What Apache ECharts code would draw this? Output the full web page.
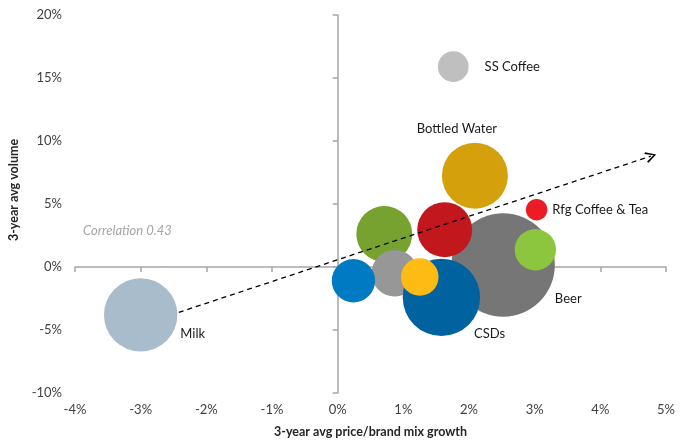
<!DOCTYPE html>
<html>
<head>
<meta charset="utf-8">
<script src="https://cdn.jsdelivr.net/npm/echarts@6/dist/echarts.min.js"></script>
<style>
  html, body { margin: 0; padding: 0; background: #fff; }
  #chart { width: 691px; height: 442px; }
</style>
</head>
<body>
<div id="chart"></div>
<script>
// Beverage categories: price/brand mix growth vs volume growth (3-year averages, %)
const categories = ['Beer', '', '', '', 'CSDs', '', 'Bottled Water', '', '', 'Rfg Coffee & Tea', 'SS Coffee', 'Milk'];
const priceMixGrowth = [2.52, 0.71, 0.87, 0.24, 1.58, 1.25, 2.09, 1.63, 3.01, 3.03, 1.76, -3.0];
const volumeGrowth   = [0.16, 2.62, -0.5, -1.09, -2.41, -0.79, 7.25, 2.96, 1.37, 4.55, 15.9, -3.8];
const bubbleSize     = [100, 29.3, 20.3, 17.6, 56.0, 13.2, 40.7, 28.3, 16.0, 4.3, 8.8, 50.4];

// trend arrow end points and correlation note
const trendStart = [-2.42, -3.6];
const trendEnd = [4.77, 8.8];
const correlationText = 'Correlation 0.43';

const xTicks = { min: -4, max: 5, step: 1 };
const yTicks = { min: -10, max: 20, step: 5 };

// styling
const palette = ['#767676', '#77a22f', '#979797', '#007ac2', '#00629f', '#fdbb13',
                 '#d4a00c', '#c1171d', '#8cc63f', '#ec1c24', '#bfbfbf', '#a9bccb'];
const labelPlacement = {
  'Beer': { position: 'right', distance: 0, offset: [0, 34] },
  'CSDs': { position: 'right', distance: -6, offset: [0, 36] },
  'Bottled Water': { position: 'top', distance: 7, offset: [-18, 0] },
  'Rfg Coffee & Tea': { position: 'right', distance: 5, offset: [0, 0] },
  'SS Coffee': { position: 'right', distance: 16, offset: [0, 0] },
  'Milk': { position: 'right', distance: 3, offset: [0, 19] }
};
const FONT = 'Lato, "Open Sans", sans-serif';
const axisGray = '#a6a6a6';

const points = categories.map((name, i) => {
  const lp = labelPlacement[name];
  return {
    name: name,
    value: [priceMixGrowth[i], volumeGrowth[i], bubbleSize[i]],
    itemStyle: { color: palette[i] },
    label: lp ? Object.assign({ show: true }, lp) : { show: false }
  };
});

const chart = echarts.init(document.getElementById('chart'), null, { renderer: 'canvas' });

const chevron = 'path://M5,0 L10,9 L8.8,10 L5,2.6 L1.2,10 L0,9 Z';

chart.setOption({
  animation: false,
  backgroundColor: '#ffffff',
  grid: { left: 75, right: 25, top: 15, bottom: 49, containLabel: false, outerBoundsMode: 'none' },
  xAxis: [
    {
      type: 'value', min: xTicks.min, max: xTicks.max, interval: xTicks.step,
      position: 'bottom',
      axisLine: { show: false, onZero: false }, axisTick: { show: false }, splitLine: { show: false },
      axisLabel: { formatter: '{value}%', margin: 10, color: '#404040', fontFamily: FONT, fontSize: 13 },
      name: '3-year avg price/brand mix growth', nameLocation: 'middle', nameGap: 32,
      nameTextStyle: { fontFamily: FONT, fontSize: 12.5, fontWeight: 'bold', color: '#262626' }
    },
    {
      type: 'value', min: xTicks.min, max: xTicks.max, interval: xTicks.step,
      position: 'bottom',
      axisLine: { show: true, onZero: true, lineStyle: { color: axisGray, width: 1.5 } },
      axisTick: { show: true, length: 5, lineStyle: { color: axisGray, width: 1.5 } },
      axisLabel: { show: false }, splitLine: { show: false }
    }
  ],
  yAxis: [
    {
      type: 'value', min: yTicks.min, max: yTicks.max, interval: yTicks.step,
      position: 'left',
      axisLine: { show: false, onZero: false }, axisTick: { show: false }, splitLine: { show: false },
      axisLabel: { formatter: '{value}%', margin: 13, color: '#404040', fontFamily: FONT, fontSize: 13 },
      name: '3-year avg volume', nameLocation: 'middle', nameGap: 51,
      nameTextStyle: { fontFamily: FONT, fontSize: 12.5, fontWeight: 'bold', color: '#262626', padding: [0, 0, 0, 28] }
    },
    {
      type: 'value', min: yTicks.min, max: yTicks.max, interval: yTicks.step,
      position: 'left',
      axisLine: { show: true, onZero: true, lineStyle: { color: axisGray, width: 1.5 } },
      axisTick: { show: true, length: 5, lineStyle: { color: axisGray, width: 1.5 } },
      axisLabel: { show: false }, splitLine: { show: false }
    }
  ],
  series: [
    {
      type: 'scatter',
      xAxisIndex: 0, yAxisIndex: 0,
      data: points,
      symbolSize: v => 2 * 51.7 * Math.sqrt(v[2] / 100),
      itemStyle: { opacity: 1 },
      label: {
        formatter: '{b}', color: '#1a1a1a', fontFamily: FONT, fontSize: 13
      },
      emphasis: { disabled: true },
      z: 2
    },
    {
      type: 'line',
      xAxisIndex: 0, yAxisIndex: 0,
      data: [],
      z: 10,
      markLine: {
        silent: true,
        symbol: ['none', chevron],
        symbolSize: [11, 11],
        label: { show: false },
        lineStyle: { color: '#000', type: [5, 4], width: 1.3 },
        data: [[{ coord: trendStart }, { coord: trendEnd }]]
      }
    }
  ],
  graphic: [
    {
      type: 'text', left: 83, top: 224,
      style: { text: correlationText, fill: '#a6a6a6', font: 'italic 13px ' + FONT }
    }
  ]
});
</script>
</body>
</html>
